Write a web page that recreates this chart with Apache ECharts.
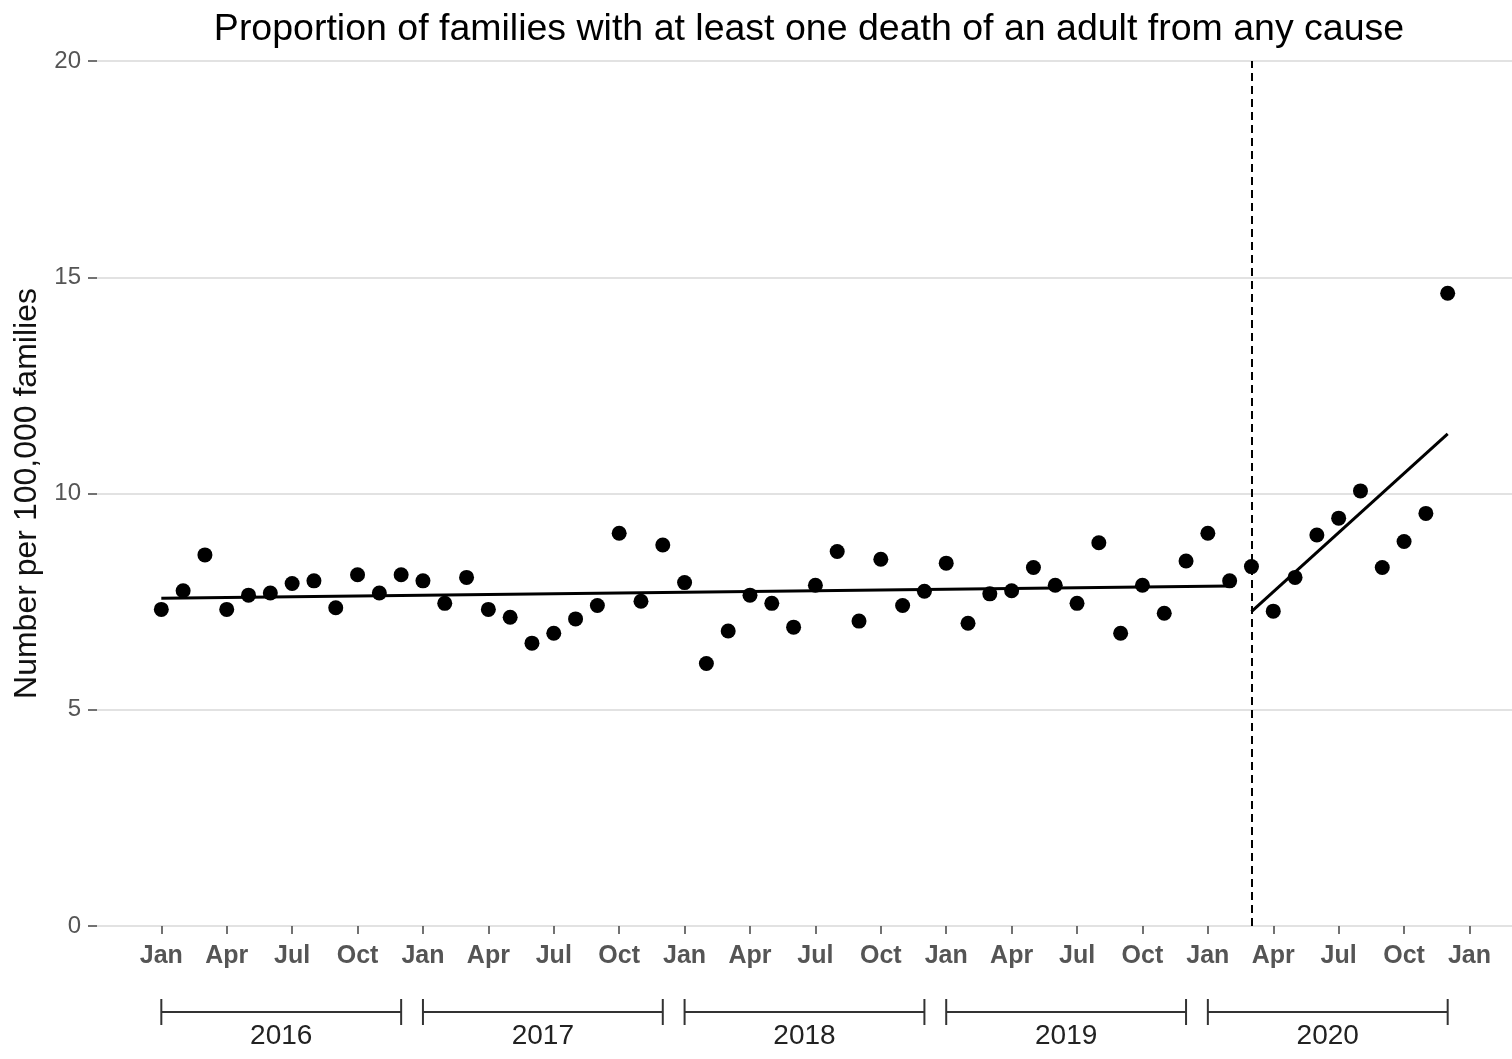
<!DOCTYPE html>
<html>
<head>
<meta charset="utf-8">
<script src="https://cdn.jsdelivr.net/npm/echarts@6/dist/echarts.min.js"></script>
<style>
  html, body { margin: 0; padding: 0; background: #ffffff; }
  #chart { width: 1512px; height: 1059px; }
</style>
</head>
<body>
<div id="chart"></div>
<script>
// Monthly rate of families with at least one adult death, Jan 2016 - Dec 2020
const monthNames = ['Jan', 'Feb', 'Mar', 'Apr', 'May', 'Jun', 'Jul', 'Aug', 'Sep', 'Oct', 'Nov', 'Dec'];
const years = ['2016', '2017', '2018', '2019', '2020'];

const rates = [
  7.32, 7.75, 8.58, 7.32, 7.65, 7.70, 7.92, 7.98, 7.36, 8.12, 7.70, 8.12, // 2016
  7.98, 7.46, 8.06, 7.32, 7.14, 6.54, 6.77, 7.10, 7.41, 9.08, 7.51, 8.81, // 2017
  7.94, 6.07, 6.82, 7.65, 7.46, 6.91, 7.88, 8.66, 7.05, 8.48, 7.41, 7.74, // 2018
  8.39, 7.00, 7.68, 7.75, 8.29, 7.88, 7.46, 8.86, 6.77, 7.88, 7.23, 8.44, // 2019
  9.08, 7.98, 8.31, 7.28, 8.06, 9.04, 9.43, 10.06, 8.29, 8.89, 9.54, 14.63 // 2020
];

// Fitted segments: before and after the interruption (month index 50 = Mar 2020)
const interruptionMonth = 50;
const trendBeforeMonths = [0, 49];
const trendBefore = [7.58, 7.86];
const trendAfterMonths = [50, 59];
const trendAfter = [7.27, 11.38];

// Axis ticks (month index from Jan 2016) and y-axis breaks
const tickMonths = [0, 3, 6, 9, 12, 15, 18, 21, 24, 27, 30, 33, 36, 39, 42, 45, 48, 51, 54, 57, 60];
const yTicks = [0, 5, 10, 15, 20];

const FONT = '"Liberation Sans", Arial, sans-serif';

const chart = echarts.init(document.getElementById('chart'), null, { renderer: 'canvas' });

const option = {
  backgroundColor: '#ffffff',
  animation: false,
  title: {
    text: 'Proportion of families with at least one death of an adult from any cause',
    left: 804,
    top: 6,
    textAlign: 'center',
    textStyle: { fontFamily: FONT, fontSize: 37.5, fontWeight: 'normal', color: '#000000' }
  },
  grid: { left: 97, right: 0, top: 61, bottom: 133, containLabel: false },
  xAxis: {
    type: 'value',
    min: -2.95,
    max: 61.95,
    axisLine: { show: false },
    splitLine: { show: false },
    axisTick: {
      show: true,
      customValues: tickMonths,
      length: 8,
      lineStyle: { color: '#444444', width: 1.5 }
    },
    axisLabel: {
      customValues: tickMonths,
      margin: 18,
      fontFamily: FONT,
      fontSize: 25,
      fontWeight: 'bold',
      color: '#555555',
      formatter: function (v) { return monthNames[Math.round(v) % 12]; }
    }
  },
  yAxis: {
    type: 'value',
    min: 0,
    max: 20,
    interval: 5,
    name: 'Number per 100,000 families',
    nameLocation: 'middle',
    nameGap: 48,
    nameTextStyle: { fontFamily: FONT, fontSize: 32, color: '#111111' },
    axisLine: { show: false, onZero: false },
    axisTick: { show: true, length: 9, lineStyle: { color: '#444444', width: 1.5 } },
    axisLabel: {
      margin: 16,
      fontFamily: FONT,
      fontSize: 24,
      color: '#555555',
      customValues: yTicks
    },
    splitLine: { show: true, lineStyle: { color: '#d9d9d9', width: 1.5 } }
  },
  series: [
    {
      name: 'rate',
      type: 'scatter',
      symbol: 'circle',
      symbolSize: 15,
      itemStyle: { color: '#000000', opacity: 1 },
      data: rates.map(function (v, i) { return [i, v]; }),
      z: 3
    },
    {
      name: 'trend before',
      type: 'line',
      symbol: 'none',
      lineStyle: { color: '#000000', width: 3 },
      data: trendBeforeMonths.map(function (m, i) { return [m, trendBefore[i]]; }),
      markLine: {
        silent: true,
        symbol: 'none',
        label: { show: false },
        lineStyle: { color: '#000000', width: 2, type: [8, 5] },
        data: [{ xAxis: interruptionMonth }]
      },
      z: 2
    },
    {
      name: 'trend after',
      type: 'line',
      symbol: 'none',
      lineStyle: { color: '#000000', width: 3 },
      data: trendAfterMonths.map(function (m, i) { return [m, trendAfter[i]]; }),
      z: 2
    },
    {
      // Year brackets under the month labels
      name: 'years',
      type: 'custom',
      clip: false,
      silent: true,
      data: years.map(function (y, k) { return [k * 12, k * 12 + 11, y]; }),
      renderItem: function (params, api) {
        const a = api.coord([api.value(0), 0]);
        const b = api.coord([api.value(1), 0]);
        const base = a[1];
        const lineY = base + 86;
        const stroke = { stroke: '#333333', lineWidth: 2 };
        return {
          type: 'group',
          children: [
            { type: 'line', shape: { x1: a[0], y1: lineY, x2: b[0], y2: lineY }, style: stroke },
            { type: 'line', shape: { x1: a[0], y1: lineY - 13, x2: a[0], y2: lineY + 13 }, style: stroke },
            { type: 'line', shape: { x1: b[0], y1: lineY - 13, x2: b[0], y2: lineY + 13 }, style: stroke },
            {
              type: 'text',
              style: {
                text: api.value(2),
                x: (a[0] + b[0]) / 2,
                y: base + 110,
                align: 'center',
                verticalAlign: 'middle',
                fontFamily: FONT,
                fontSize: 28,
                fill: '#222222'
              }
            }
          ]
        };
      }
    }
  ]
};

chart.setOption(option);
</script>
</body>
</html>
